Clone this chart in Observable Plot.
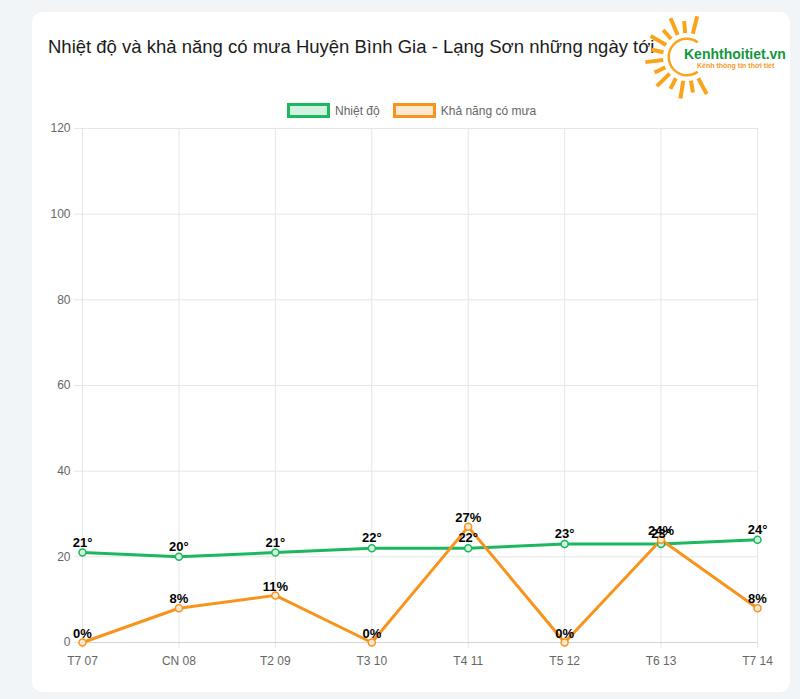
<!DOCTYPE html>
<html>
<head>
<meta charset="utf-8">
<script src="https://cdn.jsdelivr.net/npm/d3@7"></script>
<script src="https://cdn.jsdelivr.net/npm/@observablehq/plot@0.6"></script>
<style>
  html, body { margin: 0; padding: 0; }
  body { width: 800px; height: 699px; background: #f2f5f7; position: relative; overflow: hidden;
         font-family: "Liberation Sans", Arial, Helvetica, sans-serif; }
  #card { position: absolute; left: 32px; top: 12px; width: 758px; height: 680px; background: #fff; border-radius: 10px; }
  #title { position: absolute; left: 48px; top: 36px; font-size: 18.5px; color: #1b1b1b; white-space: nowrap; }
  #legend { position: absolute; left: 287px; top: 103px; font-size: 12px; color: #666; display: flex; align-items: center; white-space: nowrap; }
  .sw { width: 37px; height: 9px; border-width: 3px; border-style: solid; margin-right: 5px; }
  .item { display: flex; align-items: center; margin-right: 13px; }
  #chart { position: absolute; left: 0; top: 0; }
  #logo { position: absolute; left: 640px; top: 10px; }
</style>
</head>
<body>
<div id="card"></div>
<div id="title">Nhiệt độ và khả năng có mưa Huyện Bình Gia - Lạng Sơn những ngày tới</div>
<div id="legend"></div>
<div id="chart"></div>
<svg id="logo" width="155" height="90"></svg>
<script>
const days = ["T7 07", "CN 08", "T2 09", "T3 10", "T4 11", "T5 12", "T6 13", "T7 14"];
const temps = [21, 20, 21, 22, 22, 23, 23, 24];
const rain = [0, 8, 11, 0, 27, 0, 24, 8];
const yTicks = [0, 20, 40, 60, 80, 100, 120];
const seriesNames = ["Nhiệt độ", "Khả năng có mưa"];
const green = "#1cb75e";
const orange = "#f7941d";

// legend
const legend = document.getElementById("legend");
[[seriesNames[0], green, "#d2f1df"], [seriesNames[1], orange, "#fde9d2"]].forEach(([n, c, f]) => {
  const it = document.createElement("div"); it.className = "item";
  const sw = document.createElement("div"); sw.className = "sw";
  sw.style.borderColor = c; sw.style.background = f;
  const t = document.createElement("span"); t.textContent = n;
  it.appendChild(sw); it.appendChild(t); legend.appendChild(it);
});

const tempData = days.map((d, i) => ({day: d, v: temps[i], label: temps[i] + "°"}));
const rainData = days.map((d, i) => ({day: d, v: rain[i], label: rain[i] + "%"}));

const chart = Plot.plot({
  width: 800,
  height: 699,
  marginLeft: 82,
  marginRight: 43,
  marginTop: 128,
  marginBottom: 57,
  style: {background: "transparent", fontFamily: "'Liberation Sans', Arial, Helvetica, sans-serif", overflow: "visible"},
  x: {type: "point", domain: days, padding: 0, round: false},
  y: {domain: [0, 120]},
  marks: [
    Plot.ruleX(days, {x: d => d, stroke: "#e6e6e6", strokeWidth: 1}),
    Plot.ruleY(yTicks.filter(t => t > 0), {y: d => d, stroke: "#e6e6e6", strokeWidth: 1}),
    Plot.axisX({ticks: days, tickSize: 6, tickPadding: 8, stroke: "#e6e6e6", strokeOpacity: 1, fill: "#666", fontSize: 12, label: null}),
    Plot.axisY({ticks: yTicks, tickSize: 8, tickPadding: 4, stroke: "#e6e6e6", strokeOpacity: 1, fill: "#666", fontSize: 12, label: null}),
    Plot.ruleY([0], {stroke: "#d4d4d4", strokeWidth: 1}),
    Plot.line(tempData, {x: "day", y: "v", stroke: green, strokeWidth: 3}),
    Plot.line(rainData, {x: "day", y: "v", stroke: orange, strokeWidth: 3}),
    Plot.dot(tempData, {x: "day", y: "v", r: 3.5, stroke: green, strokeWidth: 1.5, fill: "#d2f1df"}),
    Plot.dot(rainData, {x: "day", y: "v", r: 3.5, stroke: orange, strokeWidth: 1.5, fill: "#fde9d2"}),
    Plot.text(tempData, {x: "day", y: "v", text: "label", dy: -10, fontSize: 13, fontWeight: "bold", fill: "#000"}),
    Plot.text(rainData, {x: "day", y: "v", text: "label", dy: -9, fontSize: 13, fontWeight: "bold", fill: "#000"})
  ]
});
document.getElementById("chart").appendChild(chart);

// logo (decoration)
const logo = d3.select("#logo");
const cx = 47, cy = 47;
const angles = d3.range(13).map(i => -62 - i * 18.5);
angles.forEach((a, i) => {
  const r = a * Math.PI / 180;
  const r1 = 24, r2 = (i % 2 === 0) ? 42 : 36;
  logo.append("line")
    .attr("x1", cx + r1 * Math.cos(r)).attr("y1", cy - r1 * Math.sin(r))
    .attr("x2", cx + r2 * Math.cos(r)).attr("y2", cy - r2 * Math.sin(r))
    .attr("stroke", "#f9a41a").attr("stroke-width", 4).attr("stroke-linecap", "butt");
});
logo.append("path")
  .attr("d", d3.arc()({innerRadius: 17, outerRadius: 19.5, startAngle: -0.2 * Math.PI + Math.PI, endAngle: 1.2 * Math.PI + Math.PI}))
  .attr("transform", `translate(${cx},${cy})`)
  .attr("fill", "#f9a41a");
logo.append("text").attr("x", 44).attr("y", 49).attr("font-size", 14).attr("font-weight", "bold")
  .attr("fill", "#13963f").attr("font-family", "'Liberation Sans', Arial, sans-serif").text("Kenhthoitiet.vn");
logo.append("text").attr("x", 57).attr("y", 58).attr("font-size", 7).attr("font-weight", "bold")
  .attr("fill", "#f39a1e").attr("font-family", "'Liberation Sans', Arial, sans-serif").text("Kênh thông tin thời tiết");
</script>
</body>
</html>
